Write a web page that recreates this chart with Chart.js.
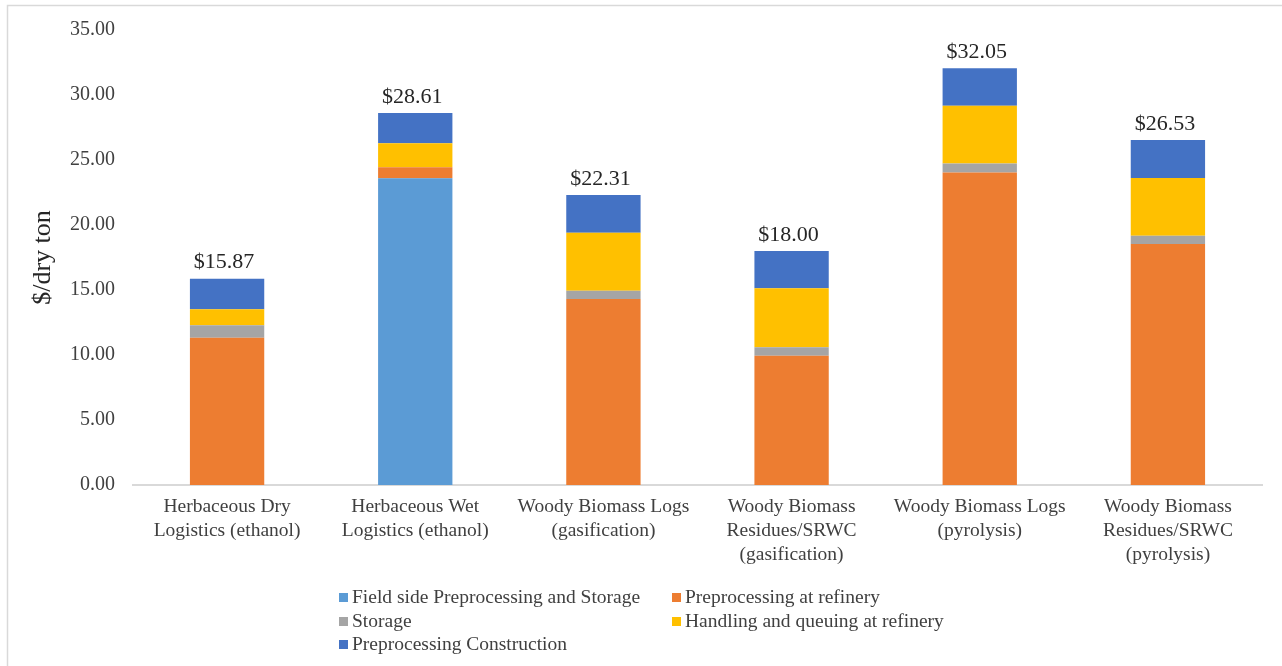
<!DOCTYPE html>
<html>
<head>
<meta charset="utf-8">
<title>Logistics cost breakdown</title>
<script src="https://cdn.jsdelivr.net/npm/chart.js@4/dist/chart.umd.min.js"></script>
<style>
    html, body { margin: 0; padding: 0; background: #fff; }
    #wrap { position: relative; width: 1282px; height: 666px; }
</style>
</head>
<body>
<div id="wrap"><canvas id="costChart"></canvas></div>
<script>
// categories (pathways)
const pathways = [
    ['Herbaceous Dry', 'Logistics (ethanol)'],
    ['Herbaceous Wet', 'Logistics (ethanol)'],
    ['Woody Biomass Logs', '(gasification)'],
    ['Woody Biomass', 'Residues/SRWC', '(gasification)'],
    ['Woody Biomass Logs', '(pyrolysis)'],
    ['Woody Biomass', 'Residues/SRWC', '(pyrolysis)']
];

// cost components, $/dry ton
const fieldSide    = [0, 23.59, 0, 0, 0, 0];
const preprocRef   = [11.33, 0.85, 14.31, 9.95, 24.03, 18.54];
const storage      = [0.95, 0, 0.64, 0.64, 0.71, 0.64];
const handling     = [1.23, 1.84, 4.46, 4.54, 4.44, 4.44];
const construction = [2.36, 2.33, 2.90, 2.87, 2.87, 2.91];

const yTicks = [0, 5, 10, 15, 20, 25, 30, 35];

const serif = 'Liberation Serif, Times New Roman, serif';

// totals on top of each stack
const totalsPlugin = {
    id: 'totals',
    afterDatasetsDraw(chart) {
        const { ctx, scales: { x, y } } = chart;
        ctx.save();
        ctx.font = '22px ' + serif;
        ctx.fillStyle = '#262626';
        ctx.textAlign = 'center';
        ctx.textBaseline = 'bottom';
        pathways.forEach((p, i) => {
            let total = 0;
            chart.data.datasets.forEach(ds => { total += ds.data[i]; });
            ctx.fillText('$' + total.toFixed(2), x.getPixelForValue(i) - 3, y.getPixelForValue(total) - 5);
        });
        ctx.restore();
    }
};

// two-column legend under the axis, plus the frame
const legendPlugin = {
    id: 'twoColLegend',
    afterDraw(chart) {
        const ctx = chart.ctx;
        ctx.save();
        ctx.strokeStyle = '#d9d9d9';
        ctx.lineWidth = 1.5;
        ctx.strokeRect(7.5, 5.5, 1290, 680);

        const cols = [339, 672];
        const rows = [598, 622, 645];
        ctx.font = '19.5px ' + serif;
        ctx.textBaseline = 'middle';
        ctx.textAlign = 'left';
        chart.data.datasets.forEach((ds, i) => {
            const cx = cols[i % 2];
            const cy = rows[Math.floor(i / 2)];
            ctx.fillStyle = ds.backgroundColor;
            ctx.fillRect(cx, cy - 5, 9, 9);
            ctx.fillStyle = '#404040';
            ctx.fillText(ds.label, cx + 13, cy);
        });
        ctx.restore();
    }
};

const ctx = document.getElementById('costChart').getContext('2d');
new Chart(ctx, {
    type: 'bar',
    data: {
        labels: pathways,
        datasets: [
            { label: 'Field side Preprocessing and Storage', data: fieldSide, backgroundColor: '#5B9BD5' },
            { label: 'Preprocessing at refinery', data: preprocRef, backgroundColor: '#ED7D31' },
            { label: 'Storage', data: storage, backgroundColor: '#A5A5A5' },
            { label: 'Handling and queuing at refinery', data: handling, backgroundColor: '#FFC000' },
            { label: 'Preprocessing Construction', data: construction, backgroundColor: '#4472C4' }
        ]
    },
    options: {
        responsive: true,
        maintainAspectRatio: false,
        animation: false,
        datasets: { bar: { categoryPercentage: 1, barPercentage: 0.395, borderWidth: 0 } },
        layout: { padding: { top: 30, right: 20, bottom: 0, left: 0 } },
        plugins: {
            legend: { display: false },
            tooltip: { enabled: false }
        },
        scales: {
            x: {
                stacked: true,
                grid: { display: false, drawTicks: false },
                border: { display: true, color: '#d9d9d9', width: 2 },
                ticks: {
                    color: '#404040',
                    font: { family: serif, size: 19.5, lineHeight: 1.22 },
                    padding: 10,
                    maxRotation: 0,
                    autoSkip: false
                },
                afterFit(scale) { scale.height = 181; }
            },
            y: {
                stacked: true,
                min: 0,
                max: 35,
                grid: { display: false },
                border: { display: false },
                afterBuildTicks(scale) { scale.ticks = yTicks.map(v => ({ value: v })); },
                ticks: {
                    color: '#404040',
                    font: { family: serif, size: 20 },
                    padding: 10,
                    callback: v => v.toFixed(2)
                },
                title: {
                    display: true,
                    text: '$/dry ton',
                    color: '#262626',
                    font: { family: serif, size: 26 },
                    padding: { top: 28 }
                },
                afterFit(scale) { scale.width = 133; }
            }
        }
    },
    plugins: [totalsPlugin, legendPlugin]
});
</script>
</body>
</html>
